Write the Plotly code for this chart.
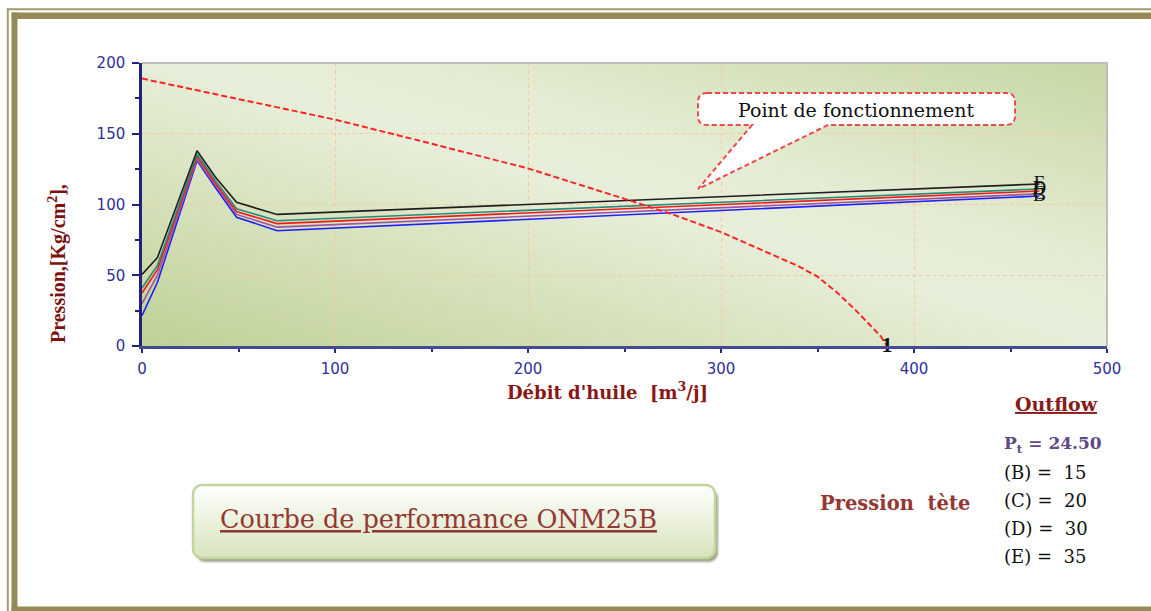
import base64
import plotly.graph_objects as go

# ---------------- data ----------------
debit = [0, 8, 28.5, 38, 49, 70, 465]
courbe_E = [50.5, 62.5, 138, 119.5, 101.5, 93, 114.5]   # 35
courbe_D = [41, 57, 135.5, 117, 97, 88.5, 111]          # 30
courbe_P = [37.5, 54, 134, 115, 95, 86.5, 109.5]        # Pt 24.50
courbe_C = [30, 50, 132, 113.5, 93, 84, 107.5]          # 20
courbe_B = [21.5, 45, 131, 112, 91, 81.5, 106]          # 15

ipr_debit = [0, 50, 100, 150, 200, 250, 275, 300, 325, 340, 350, 360, 370, 378, 383, 386]
ipr_pression = [189, 174.5, 160, 143, 125.5, 104, 93, 80.5, 65.5, 56.5, 49, 38, 25, 14, 6.5, 0]

x_ticks = [0, 100, 200, 300, 400, 500]
y_ticks = [0, 50, 100, 150, 200]

legend_lines = ["(B) =  15", "(C) =  20", "(D) =  30", "(E) =  35"]

# ---------------- geometry helpers ----------------
W, H = 1151, 611
L, R, T, B = 142, 1107, 63, 346


def fx(p):
    return (p - L) / (R - L)


def fy(p):
    return (B - p) / (B - T)


def svg_uri(svg):
    return "data:image/svg+xml;base64," + base64.b64encode(svg.encode("utf-8")).decode("ascii")


bg_svg = (
    '<svg xmlns="http://www.w3.org/2000/svg" width="965" height="283" preserveAspectRatio="none">'
    '<defs><linearGradient id="g" x1="0" y1="1" x2="1" y2="0">'
    '<stop offset="0" stop-color="#bfd195"/>'
    '<stop offset="0.5" stop-color="#e7eed9"/>'
    '<stop offset="0.62" stop-color="#e6edd7"/>'
    '<stop offset="1" stop-color="#c6d7a3"/>'
    '</linearGradient></defs>'
    '<rect x="0" y="0" width="965" height="283" fill="url(#g)"/></svg>'
)

box_svg = (
    '<svg xmlns="http://www.w3.org/2000/svg" width="540" height="86">'
    '<defs><linearGradient id="b" x1="0" y1="0" x2="0" y2="1">'
    '<stop offset="0" stop-color="#ffffff"/>'
    '<stop offset="1" stop-color="#d6e3bb"/>'
    '</linearGradient>'
    '<filter id="s" x="-5%" y="-20%" width="110%" height="140%"><feGaussianBlur stdDeviation="1.2"/></filter>'
    '</defs>'
    '<rect x="5" y="6" width="522" height="73" rx="9" ry="9" fill="#9ea58c" filter="url(#s)"/>'
    '<rect x="2" y="2" width="522" height="73" rx="9" ry="9" fill="url(#b)" stroke="#c2d59c" stroke-width="2.5"/>'
    '</svg>'
)

fig = go.Figure()

series = [
    (courbe_B, "#1f1fff", "B"),
    (courbe_C, "#9c55a0", "C"),
    (courbe_P, "#f01a1a", ""),
    (courbe_D, "#2a8a7a", "D"),
    (courbe_E, "#1e1e1e", "E"),
]
for ys, col, lab in series:
    fig.add_trace(go.Scatter(
        x=debit, y=ys, mode="lines+text",
        line=dict(color=col, width=1.6),
        text=[""] * (len(debit) - 1) + [lab],
        textposition="middle center",
        textfont=dict(family="Liberation Serif", size=19, color="#111111"),
        cliponaxis=False,
        showlegend=False, hoverinfo="skip",
    ))

fig.add_trace(go.Scatter(
    x=ipr_debit, y=ipr_pression, mode="lines+text",
    line=dict(color="#ff2222", width=2, dash="6px,3px"),
    text=[""] * (len(ipr_debit) - 1) + ["1"],
    textposition="middle center",
    textfont=dict(family="Liberation Serif", size=22, color="#111111", weight="bold"),
    cliponaxis=False,
    showlegend=False, hoverinfo="skip",
))

# ---------------- shapes ----------------
olive = "#968b58"
shapes = []
# frame
shapes.append(dict(type="line", xref="paper", yref="paper", x0=fx(7), x1=fx(1151), y0=fy(9.3), y1=fy(9.3),
                   line=dict(color="#a29a6c", width=2), layer="below"))
shapes.append(dict(type="line", xref="paper", yref="paper", x0=fx(7.8), x1=fx(7.8), y0=fy(8.5), y1=fy(611),
                   line=dict(color="#a29a6c", width=2), layer="below"))
shapes.append(dict(type="rect", xref="paper", yref="paper", x0=fx(11.5), x1=fx(1151), y0=fy(12.5), y1=fy(19),
                   line=dict(width=0), fillcolor=olive, layer="below"))
shapes.append(dict(type="rect", xref="paper", yref="paper", x0=fx(11.5), x1=fx(17.5), y0=fy(12.5), y1=fy(611),
                   line=dict(width=0), fillcolor=olive, layer="below"))
shapes.append(dict(type="rect", xref="paper", yref="paper", x0=fx(11.5), x1=fx(1151), y0=fy(606.5), y1=fy(611),
                   line=dict(width=0), fillcolor=olive, layer="below"))
# plot border (top/right)
shapes.append(dict(type="path", xref="paper", yref="paper", path="M 0,1 L 1,1 L 1,0",
                   line=dict(color="#bdbdbd", width=2), layer="above"))

# callout
x0c, x1c, y0c, y1c, r = 698, 1015, 93, 125, 9
tipx, tipy = 698, 189
b1, b2 = 752, 828


def P(px, py):
    return f"{fx(px):.5f},{fy(py):.5f}"


path = (
    f"M {P(x0c + r, y0c)} L {P(x1c - r, y0c)} Q {P(x1c, y0c)} {P(x1c, y0c + r)} "
    f"L {P(x1c, y1c - r)} Q {P(x1c, y1c)} {P(x1c - r, y1c)} "
    f"L {P(b2, y1c)} L {P(tipx, tipy)} L {P(b1, y1c)} "
    f"L {P(x0c + r, y1c)} Q {P(x0c, y1c)} {P(x0c, y1c - r)} "
    f"L {P(x0c, y0c + r)} Q {P(x0c, y0c)} {P(x0c + r, y0c)} Z"
)
shapes.append(dict(type="path", xref="paper", yref="paper", path=path,
                   fillcolor="#ffffff", line=dict(color="#f04848", width=2, dash="5px,3px"), layer="above"))

# ---------------- images ----------------
images = [
    dict(source=svg_uri(bg_svg), xref="paper", yref="paper", x=0, y=1, sizex=1, sizey=1,
         xanchor="left", yanchor="top", sizing="stretch", layer="below"),
    dict(source=svg_uri(box_svg), xref="paper", yref="paper", x=fx(191), y=fy(483),
         sizex=fx(191 + 540) - fx(191), sizey=fy(483) - fy(483 + 86),
         xanchor="left", yanchor="top", sizing="stretch", layer="below"),
]

# ---------------- annotations ----------------
dark_red = "#8a1616"
ann = []
ann.append(dict(text="Débit d'huile  [m<sup>3</sup>/j]", x=fx(607), y=fy(391), xref="paper", yref="paper",
                showarrow=False, xanchor="center", yanchor="middle",
                font=dict(family="DejaVu Serif", size=18, color=dark_red, weight="bold")))
ann.append(dict(text="Pression,[Kg/cm<sup>2</sup>],", x=fx(57), y=fy(264), xref="paper", yref="paper",
                showarrow=False, xanchor="center", yanchor="middle", textangle=-90,
                font=dict(family="Liberation Serif", size=20, color="#7d1010", weight="bold")))
ann.append(dict(text="Point de fonctionnement", x=fx(856), y=fy(110), xref="paper", yref="paper",
                showarrow=False, xanchor="center", yanchor="middle",
                font=dict(family="DejaVu Serif", size=19, color="#111111")))
ann.append(dict(text="<u>Courbe de performance ONM25B</u>", x=fx(218), y=fy(519), xref="paper", yref="paper",
                showarrow=False, xanchor="left", yanchor="middle",
                font=dict(family="DejaVu Serif", size=25.5, color="#953735")))
ann.append(dict(text="<u>Outflow</u>", x=fx(1013), y=fy(404), xref="paper", yref="paper",
                showarrow=False, xanchor="left", yanchor="middle",
                font=dict(family="DejaVu Serif", size=19, color="#8a1a1a", weight="bold")))
ann.append(dict(text="P<sub>t</sub> = 24.50", x=fx(1002), y=fy(444), xref="paper", yref="paper",
                showarrow=False, xanchor="left", yanchor="middle",
                font=dict(family="DejaVu Serif", size=17, color="#5f4a85", weight="bold")))
for i, t in enumerate(legend_lines):
    ann.append(dict(text=t, x=fx(1002), y=fy(472 + 28.3 * i), xref="paper", yref="paper",
                    showarrow=False, xanchor="left", yanchor="middle",
                    font=dict(family="DejaVu Serif", size=18, color="#111111")))
ann.append(dict(text="Pression  tète", x=fx(895), y=fy(503), xref="paper", yref="paper",
                showarrow=False, xanchor="center", yanchor="middle",
                font=dict(family="DejaVu Serif", size=19.5, color="#953735", weight="bold")))

tick_font = dict(family="DejaVu Sans", size=15, color="#30309c")

fig.update_layout(
    width=W, height=H,
    margin=dict(l=L, r=W - R, t=T, b=H - B, pad=0),
    paper_bgcolor="#ffffff",
    plot_bgcolor="rgba(0,0,0,0)",
    shapes=shapes, images=images, annotations=ann,
    xaxis=dict(range=[0, 500], tickvals=x_ticks, ticktext=[str(v) for v in x_ticks],
               showgrid=True, gridcolor="#f8c99a", griddash="4px,3px", gridwidth=1,
               zeroline=False, showline=True, linecolor="#464a94", linewidth=3,
               ticks="outside", ticklen=4, tickwidth=2, tickcolor="#2a2a85",
               minor=dict(dtick=50, ticks="outside", ticklen=3, tickcolor="#2a2a85", showgrid=False),
               tickfont=tick_font, ticklabelstandoff=3),
    yaxis=dict(range=[0, 200], tickvals=y_ticks, ticktext=[str(v) for v in y_ticks],
               showgrid=True, gridcolor="#f8c99a", griddash="4px,3px", gridwidth=1,
               zeroline=False, showline=True, linecolor="#22227e", linewidth=2.5,
               ticks="outside", ticklen=7, tickwidth=2, tickcolor="#22227e",
               minor=dict(dtick=25, ticks="outside", ticklen=4, tickcolor="#22227e", showgrid=False),
               tickfont=tick_font, ticklabelstandoff=4),
)

fig.write_html("out.html", config={"displayModeBar": False},
               post_script="document.body.style.margin='0';document.body.style.overflow='hidden';")
